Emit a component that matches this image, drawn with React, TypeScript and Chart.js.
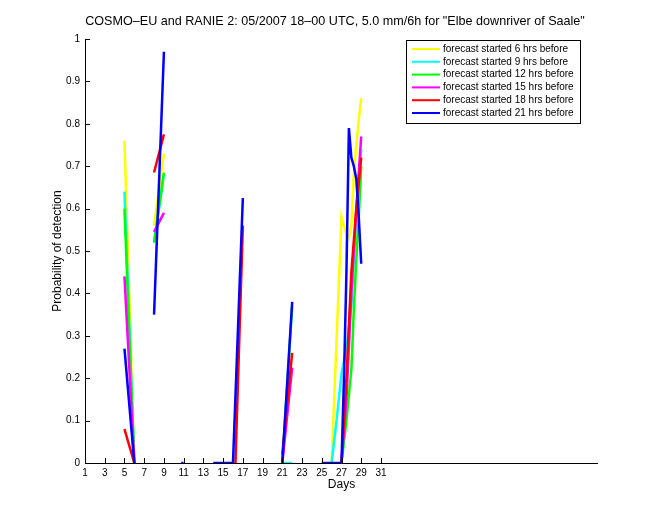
import React, { useEffect, useRef } from "react";
import { Chart, registerables } from "chart.js";

Chart.register(...registerables);

const TITLE = 'COSMO\u2013EU and RANIE 2: 05/2007 18\u201300 UTC, 5.0 mm/6h for "Elbe downriver of Saale"';
const X_LABEL = "Days";
const Y_LABEL = "Probability of detection";

const xTickValues = [1, 3, 5, 7, 9, 11, 13, 15, 17, 19, 21, 23, 25, 27, 29, 31];
const yTickValues = [0, 0.1, 0.2, 0.3, 0.4, 0.5, 0.6, 0.7, 0.8, 0.9, 1];
const yTickLabels = ["0", "0.1", "0.2", "0.3", "0.4", "0.5", "0.6", "0.7", "0.8", "0.9", "1"];

const seriesLabels = [
  "forecast started 6 hrs before",
  "forecast started 9 hrs before",
  "forecast started 12 hrs before",
  "forecast started 15 hrs before",
  "forecast started 18 hrs before",
  "forecast started 21 hrs before",
];
const seriesColors = ["#ffff00", "#00ffff", "#00ff00", "#ff00ff", "#ff0000", "#0000ff"];

// null in values = gap
const yellowDays = [5, 6, 7, 8, 9, 17, 26, 27, 27.25, 27.5, 27.75, 28, 28.25, 28.5, 28.75, 29];
const yellowVals = [0.76, 0, null, 0.56, 0.73, null, 0, 0.58, 0.56, 0.54, 0.53, 0.56, 0.68, 0.75, 0.81, 0.86];

const cyanDays = [5, 6, 7, 8, 9, 15, 21, 22, 24, 26, 26.5, 27, 27.5, 28, 28.5, 29];
const cyanVals = [0.64, 0, null, 0.52, 0.68, null, 0, 0, null, 0, 0.1, 0.21, 0.27, 0.37, 0.58, 0.74];

const greenDays = [5, 6, 7, 8, 9, 15, 21, 22, 24, 27, 27.25, 27.5, 27.75, 28, 28.25, 28.5, 28.75, 29];
const greenVals = [0.6, 0, null, 0.52, 0.685, null, 0, 0.37, null, 0, 0.05, 0.1, 0.16, 0.22, 0.36, 0.48, 0.58, 0.7];

const magentaDays = [5, 6, 7, 8, 9, 15, 21, 22, 24, 27, 27.5, 28, 28.5, 29];
const magentaVals = [0.44, 0, null, 0.545, 0.59, null, 0, 0.225, null, 0, 0.15, 0.4, 0.6, 0.77];

const redDays = [5, 6, 7, 8, 9, 12, 16.25, 17, 19, 21, 22, 24, 27, 27.5, 28, 28.5, 29];
const redVals = [0.08, 0, null, 0.685, 0.775, null, 0, 0.56, null, 0.02, 0.26, null, 0, 0.2, 0.45, 0.6, 0.72];

const blueDays = [5, 6, 7, 8, 9, 10, 10.75, 11, 12, 14, 16, 17, 19, 21, 22, 24, 25, 27, 27.25, 27.5, 27.75, 28, 28.25, 28.5, 28.75, 29];
const blueVals = [0.27, 0, null, 0.35, 0.97, null, 0, 0, null, 0, 0, 0.625, null, 0, 0.38, null, 0, 0, 0.2, 0.45, 0.79, 0.72, 0.7, 0.67, 0.58, 0.47];

const seriesDays = [yellowDays, cyanDays, greenDays, magentaDays, redDays, blueDays];
const seriesVals = [yellowVals, cyanVals, greenVals, magentaVals, redVals, blueVals];

const FONT = "'Liberation Sans', Arial, Helvetica, sans-serif";

const decorPlugin = {
  id: "decor",
  afterDraw(chart: any) {
    const ctx = chart.ctx;
    const a = chart.chartArea;
    const xs = chart.scales.x;
    const ys = chart.scales.y;
    ctx.save();
    ctx.strokeStyle = "#000";
    ctx.lineWidth = 1;
    ctx.beginPath();
    ctx.moveTo(a.left + 0.5, a.top);
    ctx.lineTo(a.left + 0.5, a.bottom + 0.5);
    ctx.lineTo(a.right, a.bottom + 0.5);
    for (const v of xTickValues) {
      const px = Math.round(xs.getPixelForValue(v)) + 0.5;
      ctx.moveTo(px, a.bottom);
      ctx.lineTo(px, a.bottom - 5);
    }
    for (const v of yTickValues) {
      const py = Math.round(ys.getPixelForValue(v)) + 0.5;
      ctx.moveTo(a.left, py);
      ctx.lineTo(a.left + 5, py);
    }
    ctx.stroke();

    ctx.fillStyle = "#000";
    ctx.textAlign = "center";
    ctx.textBaseline = "middle";
    const cx = (a.left + a.right) / 2;
    ctx.font = "12.6px " + FONT;
    ctx.fillText(TITLE, 335, 22);
    ctx.font = "12px " + FONT;
    ctx.fillText(X_LABEL, cx, 485);
    ctx.save();
    ctx.translate(58, (a.top + a.bottom) / 2);
    ctx.rotate(-Math.PI / 2);
    ctx.fillText(Y_LABEL, 0, 0);
    ctx.restore();

    // legend
    const bx = 406.5, by = 40.5, bw = 174, bh = 83;
    ctx.fillStyle = "#fff";
    ctx.fillRect(bx, by, bw, bh);
    ctx.strokeStyle = "#000";
    ctx.lineWidth = 1;
    ctx.strokeRect(bx, by, bw, bh);
    ctx.font = "10px " + FONT;
    ctx.textAlign = "left";
    chart.data.datasets.forEach((ds: any, i: number) => {
      const ry = 49 + i * 12.8;
      ctx.strokeStyle = ds.borderColor;
      ctx.lineWidth = 2;
      ctx.beginPath();
      ctx.moveTo(412, ry);
      ctx.lineTo(440, ry);
      ctx.stroke();
      ctx.fillStyle = "#000";
      ctx.fillText(ds.label, 443, ry);
    });
    ctx.restore();
  },
};

export default function App() {
  const ref = useRef<HTMLCanvasElement | null>(null);
  useEffect(() => {
    if (!ref.current) return;
    const datasets = seriesLabels.map((label, i) => ({
      label,
      data: seriesDays[i].map((d, j) => ({ x: d, y: seriesVals[i][j] })),
      borderColor: seriesColors[i],
      backgroundColor: seriesColors[i],
      borderWidth: 2.5,
      pointRadius: 0,
      tension: 0,
      spanGaps: false,
      order: seriesLabels.length - i,
    }));
    const chart = new Chart(ref.current, {
      type: "line",
      data: { datasets },
      options: {
        animation: false,
        responsive: false,
        maintainAspectRatio: false,
        layout: { padding: { left: 0, top: 39, right: 62, bottom: 0 } },
        plugins: { legend: { display: false }, title: { display: false }, tooltip: { enabled: false } },
        scales: {
          x: {
            type: "linear",
            min: 1,
            max: 53,
            afterBuildTicks: (ax: any) => {
              ax.ticks = xTickValues.map((v) => ({ value: v }));
            },
            afterFit: (s: any) => {
              s.height = 57;
            },
            ticks: {
              autoSkip: false,
              maxRotation: 0,
              padding: 4,
              color: "#000",
              font: { family: FONT, size: 10 },
              callback: (v: any) => String(v),
            },
            grid: { display: false, drawTicks: false },
            border: { display: false },
          },
          y: {
            type: "linear",
            min: 0,
            max: 1,
            afterBuildTicks: (ax: any) => {
              ax.ticks = yTickValues.map((v) => ({ value: v }));
            },
            afterFit: (s: any) => {
              s.width = 85;
            },
            ticks: {
              padding: 5,
              color: "#000",
              font: { family: FONT, size: 10 },
              callback: (v: any, i: number) => yTickLabels[i],
            },
            grid: { display: false, drawTicks: false },
            border: { display: false },
          },
        },
      },
      plugins: [decorPlugin],
    });
    return () => chart.destroy();
  }, []);
  return (
    <div style={{ position: "absolute", left: 0, top: 0, width: 660, height: 520, background: "#fff" }}>
      <canvas ref={ref} width={660} height={520} style={{ display: "block" }} />
    </div>
  );
}
